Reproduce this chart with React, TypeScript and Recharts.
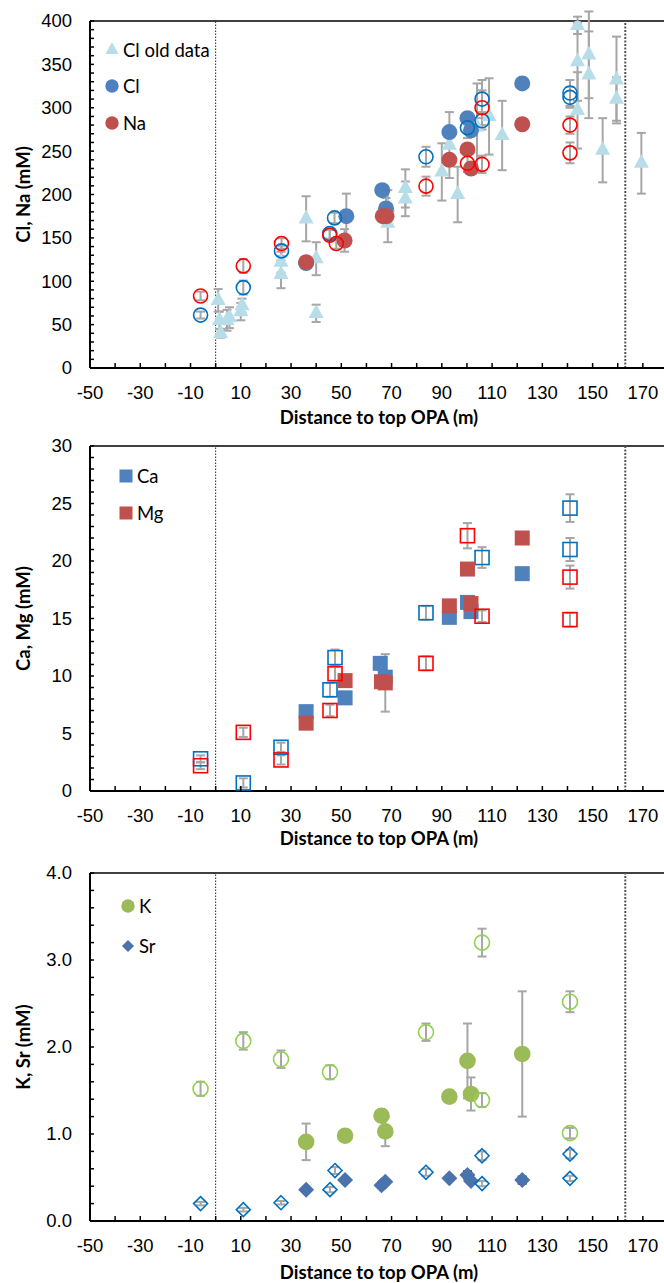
import React from 'react';
import { ScatterChart, Scatter, XAxis, YAxis, ErrorBar, ReferenceLine, Legend } from 'recharts';

// shared x axis: distance to top OPA (m)
const xTicks = [-50, -40, -30, -20, -10, 0, 10, 20, 30, 40, 50, 60, 70, 80, 90, 100, 110, 120, 130, 140, 150, 160, 170, 180];

// ---- Cl, Na ----
const clOldX = [1, 1.5, 2, 4.5, 5.5, 10, 10.5, 26, 26, 36, 40, 40, 68.5, 68.5, 75.5, 75.5, 90, 93, 96.3, 104, 108.8, 114, 144, 144, 144, 148.5, 148.5, 154, 159.5, 159.5, 169.4];
const clOldY = [78, 55, 40, 55, 58, 65, 72, 122, 108, 172, 126, 63, 185, 167, 207, 195, 226, 257, 200, 278, 290, 268, 395, 353, 297, 361, 338, 251, 332, 310, 236];
const clOldErr = [13, 10, 5, 12, 12, 10, 8, 12, 16, 26, 19, 10, 20, 22, 22, 20, 33, 38, 32, 50, 44, 40, 10, 45, 44, 50, 50, 37, 50, 25, 35];

const clX = [36, 52, 66.3, 67.8, 93, 100.2, 101.6, 122];
const clY = [121, 175, 205, 184, 272, 288, 274, 328];
const clErr = [0, 26, 0, 12, 0, 0, 0, 0];

const clOpenX = [-6, 11, 26.2, 45.4, 47.3, 83.7, 100.2, 106, 106, 141, 141];
const clOpenY = [61, 92.7, 135, 155, 173, 243.5, 277, 285, 310, 317, 312];
const clOpenErr = [4, 8, 6, 6, 6, 11.5, 12, 10, 22, 15, 12];

const naX = [36, 51.3, 66.5, 68, 93, 100.2, 101.6, 122];
const naY = [122, 147, 175, 175, 240, 252, 230, 281];
const naErr = [0, 13, 0, 0, 0, 0, 0, 0];

const naOpenX = [-6, 11, 26.2, 45.4, 48, 83.7, 100.2, 106, 106, 141, 141];
const naOpenY = [83, 117.7, 143.5, 153, 143.5, 209.6, 236, 234.7, 300, 280, 248];
const naOpenErr = [5, 8, 6, 6, 6, 11, 10, 10, 20, 10, 12];

const clTicks = [0, 10, 20, 30, 40, 50, 60, 70, 80, 90, 100, 110, 120, 130, 140, 150, 160, 170, 180, 190, 200, 210, 220, 230, 240, 250, 260, 270, 280, 290, 300, 310, 320, 330, 340, 350, 360, 370, 380, 390, 400];

// ---- Ca, Mg ----
const caX = [36, 51.5, 65.5, 67.5, 93, 100.2, 101.6, 122];
const caY = [6.9, 8.1, 11.1, 9.9, 15.1, 16.4, 15.6, 18.9];
const mgX = [36, 51.5, 66, 67.5, 93, 100.2, 101.6, 122];
const mgY = [5.9, 9.6, 9.5, 9.4, 16.1, 19.3, 16.3, 22.0];
const mgErr = [0, 0, 0, 2.5, 0, 0, 0, 0];

const caOpenX = [-6, 11, 26, 45.5, 47.5, 83.7, 106, 141, 141];
const caOpenY = [2.8, 0.7, 3.8, 8.8, 11.6, 15.5, 20.3, 24.6, 21.0];
const caOpenErr = [0.3, 0.4, 0.4, 0.6, 0.7, 0.6, 0.9, 1.2, 1.0];
const mgOpenX = [-6, 11, 26, 45.5, 47.5, 83.7, 100.2, 106, 141, 141];
const mgOpenY = [2.2, 5.1, 2.7, 7.0, 10.2, 11.1, 22.2, 15.2, 18.6, 14.9];
const mgOpenErr = [0.3, 0.4, 0.4, 0.5, 0.6, 0.6, 1.1, 0.5, 1.0, 0.6];

const caTicks = [0, 1, 2, 3, 4, 5, 6, 7, 8, 9, 10, 11, 12, 13, 14, 15, 16, 17, 18, 19, 20, 21, 22, 23, 24, 25, 26, 27, 28, 29, 30];

// ---- K, Sr ----
const kX = [36, 51.5, 66, 67.5, 93, 100.2, 101.6, 122];
const kY = [0.91, 0.98, 1.21, 1.03, 1.43, 1.84, 1.46, 1.92];
const kErr = [0.21, 0, 0, 0.17, 0, 0.43, 0.19, 0.72];
const kOpenX = [-6, 11, 26, 45.5, 83.7, 106, 106, 141, 141];
const kOpenY = [1.52, 2.07, 1.86, 1.71, 2.17, 3.2, 1.39, 2.52, 1.01];
const kOpenErr = [0.08, 0.1, 0.1, 0.08, 0.1, 0.16, 0.08, 0.12, 0.06];

const srX = [36, 51.5, 66, 67.5, 93, 100.2, 101.6, 122];
const srY = [0.36, 0.47, 0.41, 0.45, 0.49, 0.53, 0.46, 0.47];
const srErr = [0, 0, 0, 0, 0, 0.04, 0, 0.04];
const srOpenX = [-6, 11, 26, 45.5, 47.5, 83.7, 106, 106, 141, 141];
const srOpenY = [0.2, 0.13, 0.21, 0.36, 0.58, 0.56, 0.75, 0.43, 0.77, 0.49];
const srOpenErr = [0.02, 0.02, 0.02, 0.03, 0.04, 0.04, 0.05, 0.03, 0.05, 0.03];

const kTicks = [0, 0.2, 0.4, 0.6, 0.8, 1, 1.2, 1.4, 1.6, 1.8, 2, 2.2, 2.4, 2.6, 2.8, 3, 3.2, 3.4, 3.6, 3.8, 4];

const zip = (xs: number[], ys: number[], es?: number[]) =>
  xs.map((x, i) => ({ x, y: ys[i], e: es ? es[i] : 0 }));

const TICK_FONT = '"Liberation Sans", Arial, sans-serif';
const TITLE_FONT = 'Lato, "Open Sans", sans-serif';
const GREY = '#A6A6A6';

// marker shapes
const dot = (r: number, fill: string) => (p: any) => <circle cx={p.cx} cy={p.cy} r={r} fill={fill} />;
const ring = (r: number, stroke: string) => (p: any) => (
  <circle cx={p.cx} cy={p.cy} r={r} fill="none" stroke={stroke} strokeWidth={1.6} />
);
const tri = (w: number, fill: string) => (p: any) => {
  const h = w * 0.92;
  return (
    <polygon
      points={`${p.cx},${p.cy - (h * 2) / 3} ${p.cx - w / 2},${p.cy + h / 3} ${p.cx + w / 2},${p.cy + h / 3}`}
      fill={fill}
    />
  );
};
const sq = (s: number, fill: string) => (p: any) => (
  <rect x={p.cx - s / 2} y={p.cy - s / 2} width={s} height={s} fill={fill} />
);
const box = (s: number, stroke: string) => (p: any) => (
  <rect x={p.cx - s / 2} y={p.cy - s / 2} width={s} height={s} fill="none" stroke={stroke} strokeWidth={1.6} />
);
const dia = (s: number, fill: string) => (p: any) => (
  <polygon points={`${p.cx},${p.cy - s / 2} ${p.cx + s / 2},${p.cy} ${p.cx},${p.cy + s / 2} ${p.cx - s / 2},${p.cy}`} fill={fill} />
);
const diaOpen = (s: number, stroke: string) => (p: any) => (
  <polygon
    points={`${p.cx},${p.cy - s / 2} ${p.cx + s / 2},${p.cy} ${p.cx},${p.cy + s / 2} ${p.cx - s / 2},${p.cy}`}
    fill="none"
    stroke={stroke}
    strokeWidth={1.6}
  />
);

const XTick = (p: any) => {
  const v = p.payload.value;
  const show = (v + 50) % 20 === 0 && v < 180;
  return (
    <g>
      <line x1={p.x} y1={p.y} x2={p.x} y2={p.y - 5} stroke="#000" strokeWidth={1.5} />
      {show && (
        <text x={p.x} y={p.y + 25} dy="0.35em" textAnchor="middle" fontFamily={TICK_FONT} fontSize={18.5} fill="#000">
          {v}
        </text>
      )}
    </g>
  );
};

const makeYTick = (every: number, fmt: (v: number) => string) => (p: any) => {
  const v = p.payload.value;
  const show = Math.abs(v / every - Math.round(v / every)) < 1e-6;
  return (
    <g>
      <line x1={p.x} y1={p.y} x2={p.x + 4} y2={p.y} stroke="#000" strokeWidth={1.5} />
      {show && (
        <text x={p.x - 18} y={p.y} dy="0.35em" textAnchor="end" fontFamily={TICK_FONT} fontSize={18.5} fill="#000">
          {fmt(v)}
        </text>
      )}
    </g>
  );
};

type Series = { name: string; data: { x: number; y: number; e: number }[]; shape: any; err?: string };
type LegendItem = { label: string; shape: any; cx: number; cy: number };

interface PanelProps {
  top: number;
  height: number;
  mTop: number;
  axisH: number;
  yMax: number;
  yTicks: number[];
  yEvery: number;
  yFmt: (v: number) => string;
  yTitle: string;
  titleGap: number;
  series: Series[];
  legend: LegendItem[];
  textX: number;
}

function Panel(props: PanelProps) {
  const { top, height, mTop, axisH, yMax, yTicks, yEvery, yFmt, yTitle, titleGap, series, legend, textX } = props;
  const xTitle = (lp: any) => {
    const vb = lp.viewBox;
    return (
      <text x={vb.x + vb.width / 2} y={vb.y + titleGap} dy="0.35em" textAnchor="middle" fontFamily={TITLE_FONT} fontWeight={700} fontSize={18.5} fill="#000">
        Distance to top OPA (m)
      </text>
    );
  };
  const yTitleEl = (lp: any) => {
    const vb = lp.viewBox;
    const tx = 30;
    const ty = vb.y + vb.height / 2;
    return (
      <text x={tx} y={ty} transform={`rotate(-90 ${tx} ${ty})`} textAnchor="middle" fontFamily={TITLE_FONT} fontWeight={700} fontSize={18.5} fill="#000">
        {yTitle}
      </text>
    );
  };
  const legendContent = () => (
    <svg width={320} height={160} style={{ display: 'block' }}>
      {legend.map((it) => (
        <g key={it.label}>
          {it.shape({ cx: it.cx, cy: it.cy })}
          <text x={textX} y={it.cy} dy="0.36em" fontFamily={TITLE_FONT} fontSize={18.5} fill="#000">
            {it.label}
          </text>
        </g>
      ))}
    </svg>
  );
  return (
    <div style={{ position: 'absolute', left: 0, top }}>
      <ScatterChart width={680} height={height} margin={{ top: mTop, right: 12, bottom: 0, left: 0 }}>
        <XAxis
          type="number"
          dataKey="x"
          domain={[-50, 180]}
          ticks={xTicks}
          interval={0}
          tickSize={0}
          tickMargin={0}
          tickLine={false}
          tick={XTick}
          axisLine={{ stroke: '#000', strokeWidth: 2 }}
          height={axisH}
          allowDataOverflow
          label={xTitle}
        />
        <YAxis
          type="number"
          dataKey="y"
          domain={[0, yMax]}
          ticks={yTicks}
          interval={0}
          tickSize={0}
          tickMargin={0}
          tickLine={false}
          tick={makeYTick(yEvery, yFmt)}
          axisLine={{ stroke: '#000', strokeWidth: 2 }}
          width={90}
          allowDataOverflow
          label={yTitleEl}
        />
        <ReferenceLine y={yMax} stroke="#404040" strokeWidth={2} />
        <ReferenceLine x={0} stroke="#222" strokeWidth={1} strokeDasharray="1.5 1.5" />
        <ReferenceLine x={163} stroke="#555" strokeWidth={2} strokeDasharray="2 1.5" />
        {series.map((s) => (
          <Scatter key={s.name} name={s.name} data={s.data} shape={s.shape} isAnimationActive={false}>
            {s.err && <ErrorBar dataKey="e" direction="y" width={4.5} stroke={s.err} strokeWidth={2} />}
          </Scatter>
        ))}
        <Legend
          layout="vertical"
          align="center"
          verticalAlign="middle"
          content={legendContent}
          wrapperStyle={{ position: 'absolute', left: 0, top: 0, width: 320, height: 160 }}
        />
      </ScatterChart>
    </div>
  );
}

const clOldShape = tri(15, '#B7DEE8');
const clShape = dot(8, '#4F81BD');
const naShape = dot(8, '#C0504D');
const caShape = sq(15, '#4F81BD');
const mgShape = sq(15, '#C0504D');
const kShape = dot(8.3, '#9BBB59');
const srShape = dia(16, '#4A72AC');

export default function App() {
  return (
    <div style={{ position: 'absolute', left: 0, top: 0, width: 664, height: 1283, overflow: 'hidden', background: '#fff' }}>
      <Panel
        top={0}
        height={434}
        mTop={21}
        axisH={66}
        yMax={400}
        yTicks={clTicks}
        yEvery={50}
        yFmt={(v) => String(v)}
        yTitle="Cl, Na (mM)"
        titleGap={50}
        textX={123}
        series={[
          { name: 'Cl old data', data: zip(clOldX, clOldY, clOldErr), shape: clOldShape, err: GREY },
          { name: 'Cl', data: zip(clX, clY, clErr), shape: clShape, err: GREY },
          { name: 'Cl new', data: zip(clOpenX, clOpenY, clOpenErr), shape: ring(7, '#0070C0'), err: GREY },
          { name: 'Na', data: zip(naX, naY, naErr), shape: naShape, err: GREY },
          { name: 'Na new', data: zip(naOpenX, naOpenY, naOpenErr), shape: ring(7, '#FF0000'), err: GREY },
        ]}
        legend={[
          { label: 'Cl old data', shape: tri(13, '#B7DEE8'), cx: 112, cy: 50 },
          { label: 'Cl', shape: dot(6.7, '#4F81BD'), cx: 112, cy: 86 },
          { label: 'Na', shape: dot(6.7, '#C0504D'), cx: 112, cy: 123 },
        ]}
      />
      <Panel
        top={426}
        height={434}
        mTop={20}
        axisH={69}
        yMax={30}
        yTicks={caTicks}
        yEvery={5}
        yFmt={(v) => String(v)}
        yTitle="Ca, Mg (mM)"
        titleGap={48}
        textX={137}
        series={[
          { name: 'Ca', data: zip(caX, caY), shape: caShape },
          { name: 'Ca new', data: zip(caOpenX, caOpenY, caOpenErr), shape: box(14, '#0070C0'), err: GREY },
          { name: 'Mg', data: zip(mgX, mgY, mgErr), shape: mgShape, err: GREY },
          { name: 'Mg new', data: zip(mgOpenX, mgOpenY, mgOpenErr), shape: box(14, '#FF0000'), err: GREY },
        ]}
        legend={[
          { label: 'Ca', shape: sq(13, '#4F81BD'), cx: 126, cy: 50 },
          { label: 'Mg', shape: sq(13, '#C0504D'), cx: 126, cy: 87 },
        ]}
      />
      <Panel
        top={852}
        height={431}
        mTop={21}
        axisH={62}
        yMax={4}
        yTicks={kTicks}
        yEvery={1}
        yFmt={(v) => v.toFixed(1)}
        yTitle="K, Sr (mM)"
        titleGap={52}
        textX={139}
        series={[
          { name: 'K', data: zip(kX, kY, kErr), shape: kShape, err: GREY },
          { name: 'K new', data: zip(kOpenX, kOpenY, kOpenErr), shape: ring(7.5, '#92D050'), err: GREY },
          { name: 'Sr', data: zip(srX, srY, srErr), shape: srShape, err: '#000' },
          { name: 'Sr new', data: zip(srOpenX, srOpenY, srOpenErr), shape: diaOpen(14, '#0070C0'), err: GREY },
        ]}
        legend={[
          { label: 'K', shape: dot(6.7, '#9BBB59'), cx: 128, cy: 54 },
          { label: 'Sr', shape: dia(12, '#4A72AC'), cx: 128, cy: 94 },
        ]}
      />
    </div>
  );
}
